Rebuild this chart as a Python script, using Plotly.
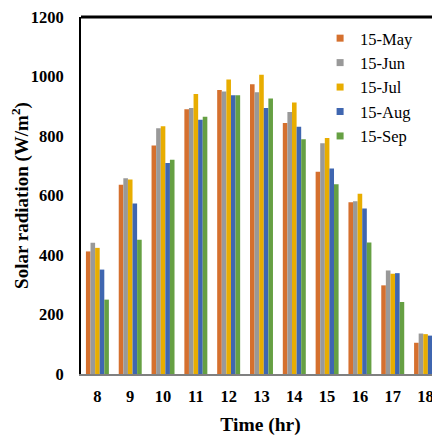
import plotly.graph_objects as go

hours = ["8", "9", "10", "11", "12", "13", "14", "15", "16", "17", "18"]
series_names = ["15-May", "15-Jun", "15-Jul", "15-Aug", "15-Sep"]
may = [412, 636, 768, 890, 955, 974, 844, 680, 577, 298, 105]
jun = [441, 658, 826, 894, 950, 947, 881, 776, 581, 348, 136]
jul = [424, 654, 833, 941, 990, 1006, 913, 793, 606, 337, 134]
aug = [351, 573, 709, 855, 937, 894, 831, 691, 556, 339, 129]
sep = [250, 451, 720, 865, 937, 926, 789, 638, 442, 242, 39]
y_ticks = [0, 200, 400, 600, 800, 1000, 1200]

colors = ["#D5702E", "#999999", "#E8AD00", "#3F66B0", "#66A043"]
serif = "Liberation Serif"

fig = go.Figure()
for name, vals, c in zip(series_names, [may, jun, jul, aug, sep], colors):
    fig.add_trace(go.Bar(x=hours, y=vals, name=name, marker=dict(color=c, line=dict(width=0)),
                         showlegend=False))
for name, c in zip(series_names, colors):
    fig.add_trace(go.Scatter(x=[None], y=[None], name=name, mode="markers",
                             marker=dict(symbol="square", size=7, color=c)))

# page body has an 8px margin, so the figure is 8px smaller than the window
fig.update_layout(
    width=432, height=428,
    margin=dict(l=73, r=0, t=5, b=62),
    paper_bgcolor="white", plot_bgcolor="white",
    barmode="group", bargap=0.3, bargroupgap=0,
    font=dict(family=serif, color="black"),
    legend=dict(x=0.666, y=0.989, xanchor="left", yanchor="top",
                font=dict(family=serif, size=16.5, color="black"),
                bgcolor="rgba(0,0,0,0)", itemwidth=30, tracegroupgap=0),
    xaxis=dict(type="category", categoryorder="array", categoryarray=hours,
               range=[-0.5, 10.44],
               showline=True, linecolor="#808080", linewidth=2, ticks="",
               ticklabelstandoff=6, showgrid=False, zeroline=False,
               tickfont=dict(family=serif, size=16.5, weight="bold", color="black"),
               title=dict(text="Time (hr)", standoff=15,
                          font=dict(family=serif, size=19.5, weight="bold", color="black"))),
    yaxis=dict(range=[0, 1200], tickvals=y_ticks, ticktext=[str(v) for v in y_ticks],
               showline=True, linecolor="black", linewidth=2, ticks="",
               ticklabelstandoff=12, ticklabeloverflow="allow",
               showgrid=False, zeroline=False,
               tickfont=dict(family=serif, size=16.5, weight="bold", color="black"),
               title=dict(text="Solar radiation (W/m<sup>2</sup>)", standoff=1,
                          font=dict(family=serif, size=19, weight="bold", color="black"))),
    shapes=[dict(type="line", xref="paper", yref="paper", x0=0, x1=1, y0=1, y1=1,
                 line=dict(color="black", width=3))],
)

fig.write_html("out.html")
